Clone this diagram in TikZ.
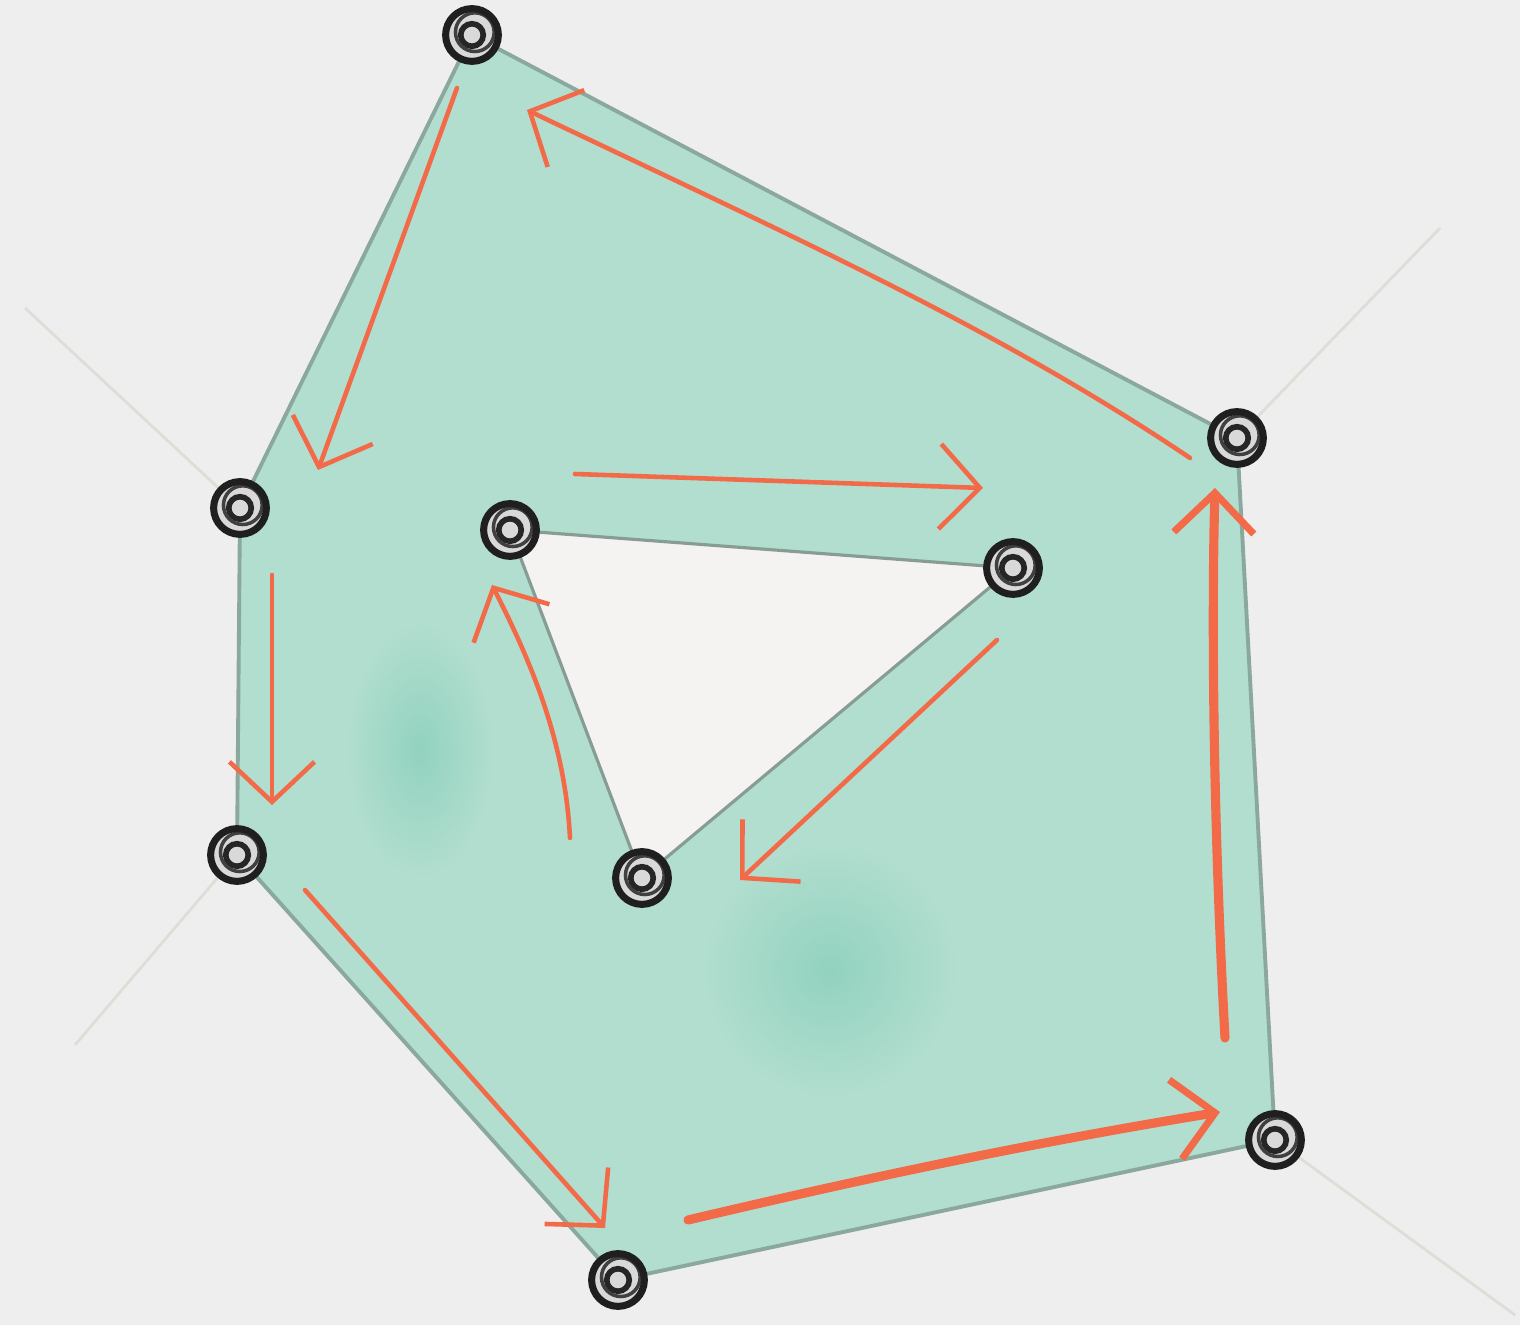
\documentclass[tikz,border=0pt]{standalone}
\usetikzlibrary{arrows.meta,calc}
\definecolor{bgc}{HTML}{EEEEEE}
\definecolor{fillc}{HTML}{B2DECF}
\definecolor{blobc}{HTML}{92D2BF}
\definecolor{holec}{HTML}{F4F3F1}
\definecolor{edgec}{HTML}{8AA89E}
\definecolor{orc}{HTML}{F26A48}
\definecolor{faint}{HTML}{DEDED6}
\tikzset{
  vert/.style={circle,draw=black!88,line width=2pt,minimum size=15pt,inner sep=0pt,fill=black!15,
    path picture={\draw[black!85,line width=1.6pt] (path picture bounding box.center) circle (3.2pt);
                  \draw[black!75,line width=1pt] ([xshift=0.8pt,yshift=0.8pt]path picture bounding box.center) circle (5.5pt);}},
  arr/.style={draw=orc,line width=1.3pt,line cap=round,-{Straight Barb[length=4mm,width=8.5mm,line width=1.3pt]}},
  arrb/.style={draw=orc,line width=2.6pt,line cap=round,-{Straight Barb[length=4mm,width=8mm,line width=2pt]}},
  guide/.style={draw=faint,line width=0.8pt},
  blob/.style={inner color=blobc,outer color=fillc}
}
\begin{document}
\begin{tikzpicture}[x=0.01cm,y=-0.01cm]
\fill[bgc] (0,0) rectangle (1520,1325);
\useasboundingbox (0,0) rectangle (1520,1325);
% vertex positions
\coordinate (pA) at (472,35);
\coordinate (pB) at (1237,438);
\coordinate (pC) at (1275,1140);
\coordinate (pD) at (618,1280);
\coordinate (pE) at (237,855);
\coordinate (pF) at (240,508);
\coordinate (pG) at (510,530);
\coordinate (pH) at (1013,568);
\coordinate (pI) at (642,878);
% faint guide lines
\coordinate (gF) at (25,308);
\coordinate (gE) at (75,1045);
\coordinate (gB) at (1440,228);
\coordinate (gC) at (1515,1315);
\draw[guide] (pF) -- (gF);
\draw[guide] (pE) -- (gE);
\draw[guide] (pB) -- (gB);
\draw[guide] (pC) -- (gC);
% region
\fill[fillc,even odd rule] (pA) -- (pB) -- (pC) -- (pD) -- (pE) -- (pF) -- cycle
  (pG) -- (pH) -- (pI) -- cycle;
\fill[holec] (pG) -- (pH) -- (pI) -- cycle;
\shade[blob] (420,750) ellipse (75 and 130);
\shade[blob] (830,970) ellipse (130 and 130);
\draw[edgec,line width=1.1pt,line join=round] (pA) -- (pB) -- (pC) -- (pD) -- (pE) -- (pF) -- cycle;
\draw[edgec!70!gray,line width=0.9pt,line join=round] (pG) -- (pH) -- (pI) -- cycle;
% vertices
\node[vert] (A) at (pA) {};
\node[vert] (B) at (pB) {};
\node[vert] (C) at (pC) {};
\node[vert] (D) at (pD) {};
\node[vert] (E) at (pE) {};
\node[vert] (F) at (pF) {};
\node[vert] (G) at (pG) {};
\node[vert] (H) at (pH) {};
\node[vert] (I) at (pI) {};
% arrow endpoints
\coordinate (a1s) at (457,88);   \coordinate (a1e) at (318,470);
\coordinate (a2s) at (272,575);  \coordinate (a2e) at (272,805);
\coordinate (a3s) at (305,890);  \coordinate (a3e) at (605,1228);
\coordinate (a4s) at (688,1220); \coordinate (a4e) at (1220,1112);
\coordinate (a5s) at (1225,1038);\coordinate (a5e) at (1215,488);
\coordinate (a6s) at (1190,458); \coordinate (a6e) at (527,110);
\coordinate (a7s) at (575,474);  \coordinate (a7e) at (983,488);
\coordinate (a8s) at (997,640);  \coordinate (a8e) at (740,880);
\coordinate (a9s) at (570,838);  \coordinate (a9e) at (492,585);
\draw[arr] (a1s) -- (a1e);
\draw[arr] (a2s) -- (a2e);
\draw[arr] (a3s) -- (a3e);
\draw[arrb] (a4s) .. controls (900,1170) and (1050,1140) .. (a4e);
\draw[arrb] (a5s) .. controls (1212,800) and (1212,600) .. (a5e);
\draw[arr] (a6s) .. controls (1000,330) and (800,240) .. (a6e);
\draw[arr] (a7s) -- (a7e);
\draw[arr] (a8s) -- (a8e);
\draw[arr] (a9s) .. controls (565,740) and (530,660) .. (a9e);
\end{tikzpicture}
\end{document}
